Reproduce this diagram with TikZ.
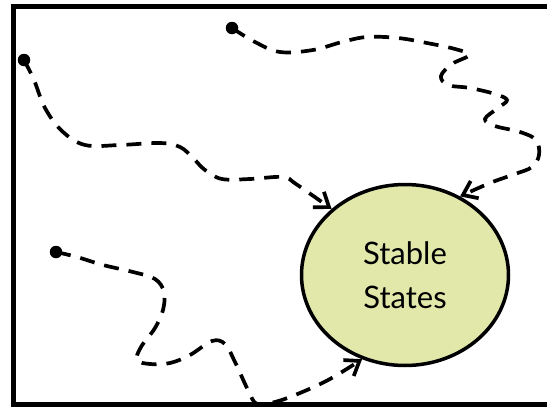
\documentclass[tikz,border=0pt]{standalone}
\usepackage{fontspec}
\setmainfont{Lato}
\usetikzlibrary{arrows.meta,shapes.geometric}
\definecolor{stablefill}{RGB}{225,232,170}

\begin{document}
\begin{tikzpicture}[x=1pt,y=-1pt,
  walk/.style={line width=3.7pt, dash pattern=on 15pt off 10pt,
    -{Straight Barb[length=13pt,width=19pt]}},
  startdot/.style={circle, fill=black, inner sep=0pt, minimum size=12.5pt},
  statebox/.style={ellipse, draw, line width=3.5pt, fill=stablefill,
    minimum width=207pt, minimum height=181pt, inner sep=0pt,
    align=center, font=\fontsize{31}{44}\selectfont}]

  % page area
  \useasboundingbox (0,0) rectangle (547,407);
  \begin{scope}
    \clip (0,0) rectangle (547,407);
    \draw[line width=4.3pt] (13.5,6.5) rectangle (570,404.6);
  \end{scope}

  % attractor
  \node[statebox] (ss) at (405,275) {Stable\\States};

  % starting points
  \node[startdot] (d1) at (24,60) {};
  \node[startdot] (d2) at (232,28) {};
  \node[startdot] (d3) at (56,252) {};

  % trajectories
  \draw[walk] plot[smooth, tension=0.6] coordinates {
    (d1) (34,80) (45,108) (62,131) (85,145) (120,145) (160,143) (180,147)
    (193,158) (205,170) (222,179) (250,179) (283,177) (296,184) (ss.138)};

  \draw[walk] plot[smooth, tension=0.6] coordinates {
    (d2) (255,42) (280,52) (313,50) (342,42) (367,37) (398,38) (427,43)
    (455,49) (469,55) (452,64) (441,76) (448,85) (470,88) (495,94) (507,100)
    (498,108) (485,119) (495,126) (520,132) (536,140) (539,155) (532,167)
    (515,174) (490,183) (ss.55)};

  \draw[walk] plot[smooth, tension=0.6] coordinates {
    (d3) (77,257) (103,265) (133,272) (155,279) (164,292) (163,310) (155,328)
    (141,347) (137,360) (150,364) (170,363) (190,355) (212,341) (225,344)
    (235,362) (248,390) (257,404) (275,402) (300,393) (330,379) (ss.243)};
\end{tikzpicture}
\end{document}
